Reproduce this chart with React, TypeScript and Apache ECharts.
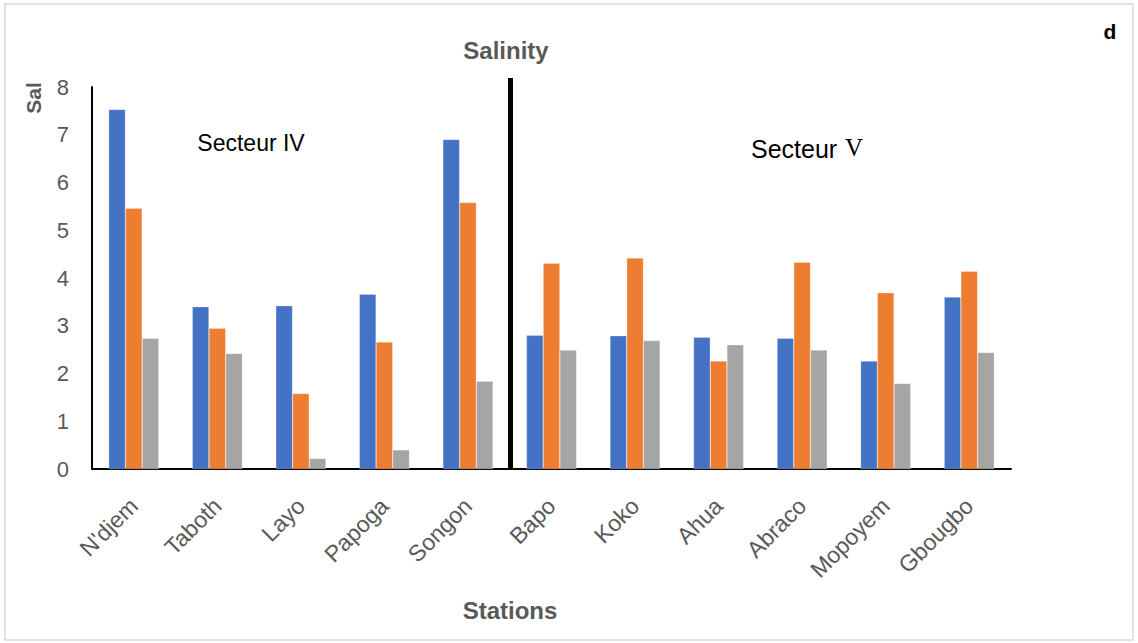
import React, { useEffect, useRef } from "react";
import * as echarts from "echarts";

const stations = ["N'djem", "Taboth", "Layo", "Papoga", "Songon", "Bapo", "Koko", "Ahua", "Abraco", "Mopoyem", "Gbougbo"];
const seriesBlue = [7.53, 3.40, 3.42, 3.66, 6.90, 2.80, 2.79, 2.76, 2.74, 2.26, 3.60];
const seriesOrange = [5.46, 2.95, 1.58, 2.66, 5.58, 4.31, 4.42, 2.26, 4.33, 3.69, 4.14];
const seriesGray = [2.74, 2.42, 0.22, 0.40, 1.84, 2.49, 2.69, 2.60, 2.49, 1.79, 2.44];
const yTicks = [0, 8, 1]; // min, max, interval

const FONT = "'Liberation Sans', Arial, sans-serif";
const GREY_TXT = "#595959";

export default function App() {
  const ref = useRef<HTMLDivElement>(null);
  useEffect(() => {
    if (!ref.current) return;
    const chart = echarts.init(ref.current, null, { renderer: "svg" });
    const mkSeries = (data: number[], color: string) => ({
      type: "bar",
      data,
      barGap: "0%",
      barCategoryGap: "40%",
      itemStyle: { color, borderColor: "rgba(255,255,255,0.5)", borderWidth: 0.5 },
    });
    chart.setOption({
      animation: false,
      backgroundColor: "#ffffff",
      grid: { left: 92, right: 127, top: 87, bottom: 174, containLabel: false },
      xAxis: {
        type: "category",
        data: stations,
        axisLine: { show: true, lineStyle: { color: "#000", width: 2 } },
        axisTick: { show: false },
        axisLabel: {
          rotate: 45,
          margin: 33,
          interval: 0,
          color: GREY_TXT,
          fontFamily: FONT,
          fontSize: 23,
        },
      },
      yAxis: {
        type: "value",
        min: yTicks[0],
        max: yTicks[1],
        interval: yTicks[2],
        axisLine: { show: true, lineStyle: { color: "#000", width: 2 } },
        axisTick: { show: false },
        splitLine: { show: false },
        axisLabel: { color: GREY_TXT, fontFamily: FONT, fontSize: 22, margin: 23 },
      },
      series: [
        mkSeries(seriesBlue, "#4472C4"),
        mkSeries(seriesOrange, "#ED7D31"),
        mkSeries(seriesGray, "#A5A5A5"),
      ],
      graphic: [
        {
          type: "rect",
          shape: { x: 5, y: 4, width: 1128, height: 636 },
          style: { fill: "none", stroke: "#D9D9D9", lineWidth: 1.5 },
          z: -1,
        },
        {
          type: "line",
          shape: { x1: 510.5, y1: 78, x2: 510.5, y2: 470 },
          style: { stroke: "#000", lineWidth: 5 },
          z: 10,
        },
        {
          type: "text",
          x: 506,
          y: 50,
          style: { text: "Salinity", fill: GREY_TXT, font: `bold 24px ${FONT}`, textAlign: "center", textVerticalAlign: "middle" },
        },
        {
          type: "text",
          x: 510,
          y: 610,
          style: { text: "Stations", fill: GREY_TXT, font: `bold 24px ${FONT}`, textAlign: "center", textVerticalAlign: "middle" },
        },
        {
          type: "text",
          x: 33,
          y: 98,
          rotation: Math.PI / 2,
          style: { text: "Sal", fill: GREY_TXT, font: `bold 21px ${FONT}`, textAlign: "center", textVerticalAlign: "middle" },
        },
        {
          type: "text",
          x: 1110,
          y: 31,
          style: { text: "d", fill: "#000", font: `bold 21px ${FONT}`, textAlign: "center", textVerticalAlign: "middle" },
        },
        {
          type: "text",
          x: 251,
          y: 143,
          style: { text: "Secteur IV", fill: "#000", font: `23px ${FONT}`, textAlign: "center", textVerticalAlign: "middle" },
        },
        {
          type: "group",
          children: [
            {
              type: "text",
              x: 751,
              y: 149,
              style: { text: "Secteur", fill: "#000", font: `25px ${FONT}`, textAlign: "left", textVerticalAlign: "middle" },
            },
            {
              type: "text",
              x: 845,
              y: 147,
              style: { text: "V", fill: "#000", font: `25px 'Liberation Serif', 'Times New Roman', serif`, textAlign: "left", textVerticalAlign: "middle" },
            },
          ],
        },
      ],
    });
    return () => chart.dispose();
  }, []);
  return (
    <div
      ref={ref}
      style={{ position: "absolute", left: 0, top: 0, width: 1138, height: 643 }}
    />
  );
}
